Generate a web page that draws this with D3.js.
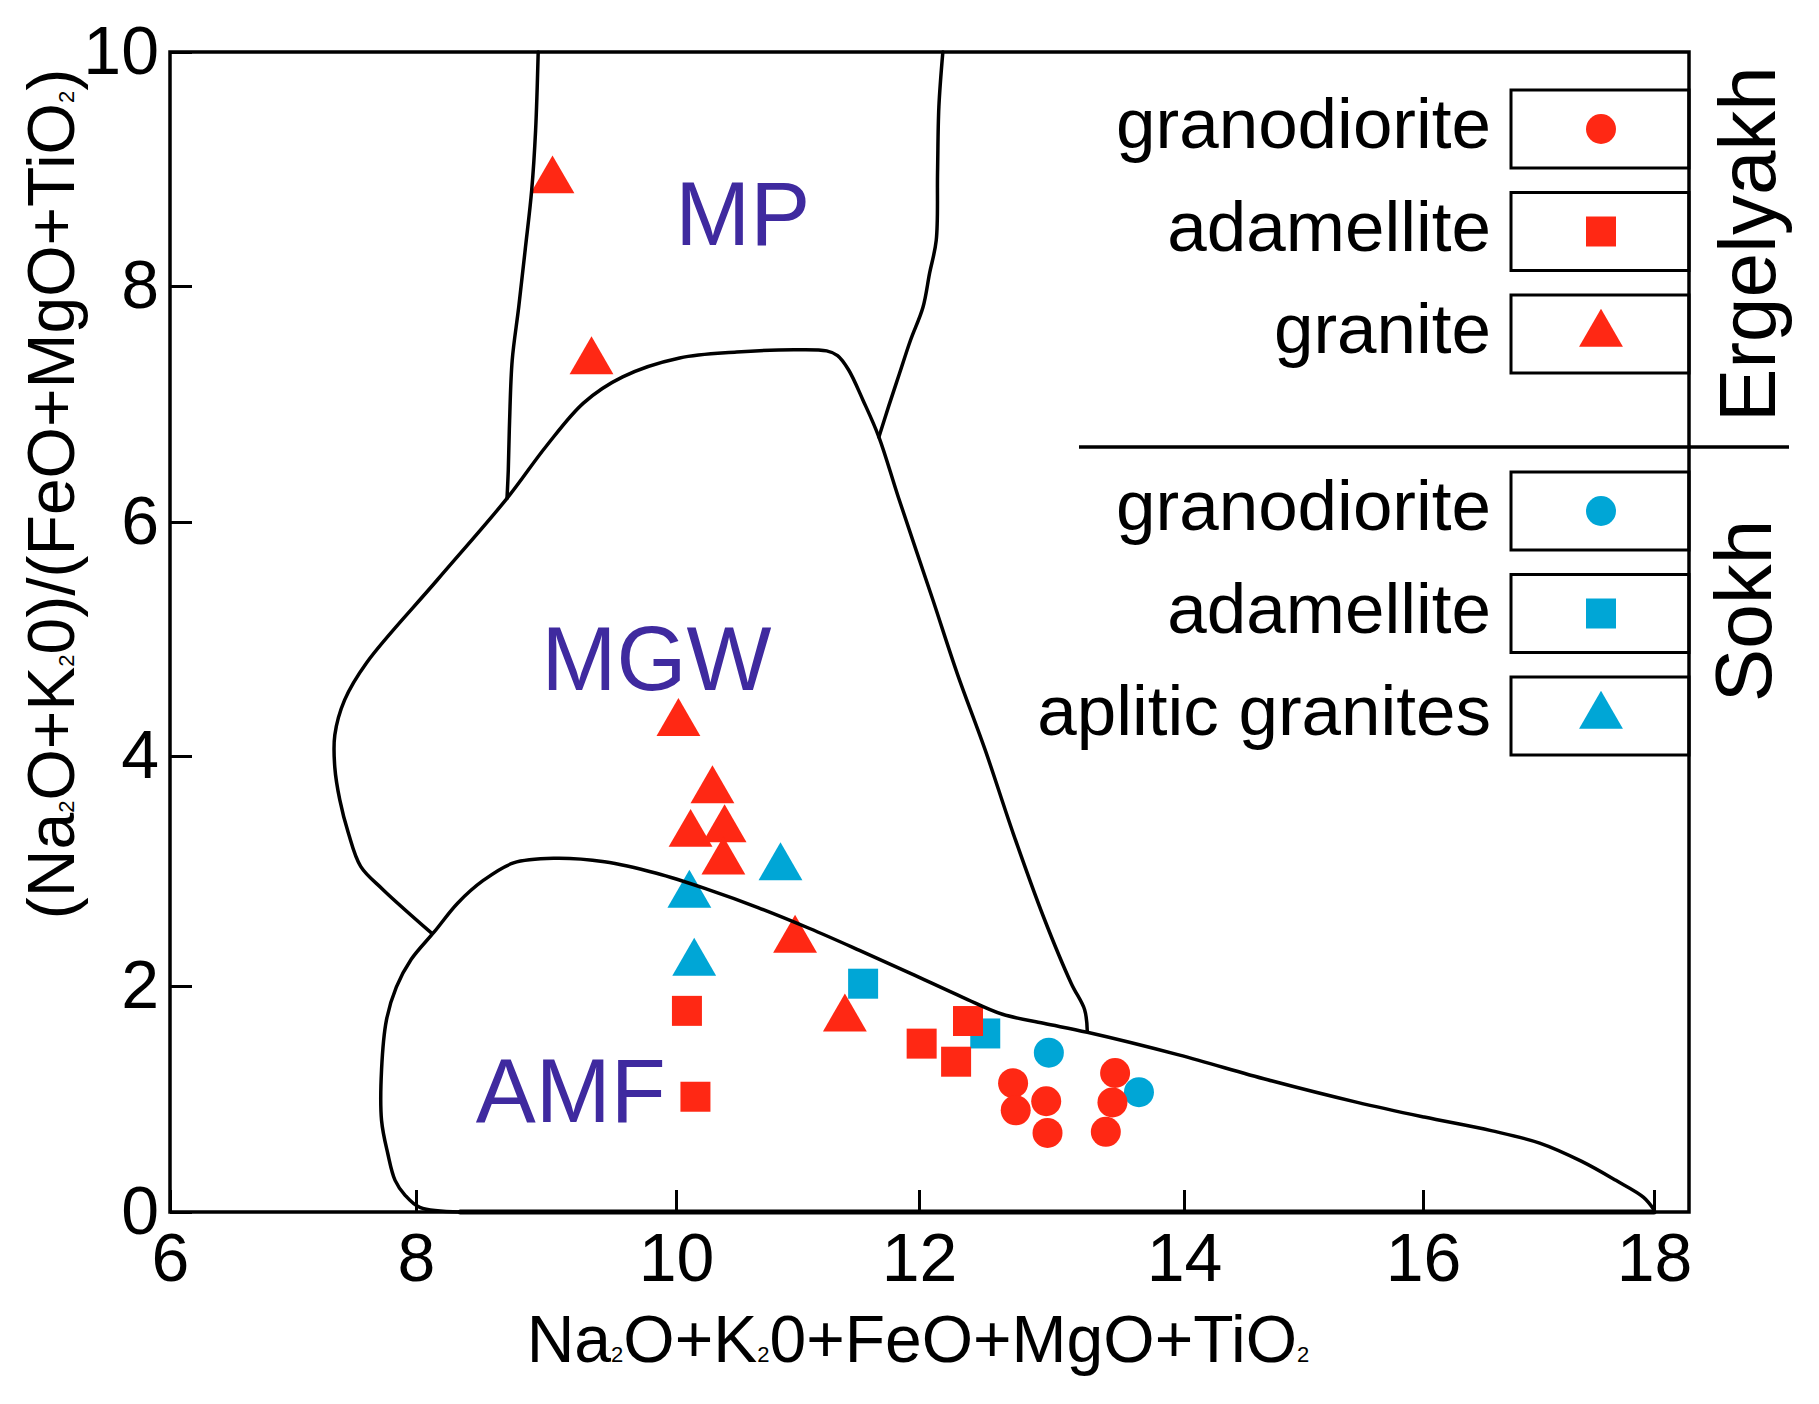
<!DOCTYPE html>
<html><head><meta charset="utf-8">
<script src="https://cdn.jsdelivr.net/npm/d3@7"></script>
<style>html,body{margin:0;padding:0;background:#fff;} svg{display:block;font-family:"Liberation Sans",Arial,Helvetica,sans-serif;}</style>
</head><body><svg id="chart" width="1819" height="1404"></svg>
<script>
// ---------- data ----------
const xTicks = [6, 8, 10, 12, 14, 16, 18];
const yTicks = [0, 2, 4, 6, 8, 10];

// Ergelyakh
const ergGranodiorite = [[12.71,1.14],[12.73,0.90],[12.96,0.98],[12.97,0.70],[13.48,1.23],[13.46,0.97],[13.41,0.71]];
const ergAdamellite   = [[10.09,1.78],[12.37,1.69],[12.02,1.49],[12.28,1.33],[10.16,1.02]];
const ergGranite      = [[9.05,8.90],[9.35,7.36],[10.02,4.28],[10.30,3.70],[10.12,3.32],[10.40,3.36],[10.39,3.08],[10.98,2.40],[11.39,1.71]];
// Sokh
const sokhGranodiorite = [[12.98,1.41],[13.66,1.06]];
const sokhAdamellite   = [[11.54,2.02],[12.50,1.58]];
const sokhAplitic      = [[10.86,3.03],[10.11,2.79],[10.15,2.20]];

// field boundaries
const mpLeft  = [[8.94,10],[8.92,9.33],[8.89,8.82],[8.84,8.31],[8.79,7.82],[8.74,7.37],[8.72,6.86],[8.71,6.44],[8.70,6.20]];
const mpRight = [[12.18,10],[12.15,9.53],[12.14,8.97],[12.13,8.39],[12.08,8.11],[12.03,7.82],[11.93,7.54],[11.84,7.26],[11.75,6.98],[11.67,6.72]];
const mgwLine = [[8.12,2.46],[7.73,2.84],[7.55,3.04],[7.45,3.33],[7.38,3.62],[7.34,3.90],[7.34,4.18],[7.42,4.48],[7.60,4.80],[8.16,5.50],[8.70,6.20],[9.00,6.64],[9.29,7.01],[9.59,7.23],[10.03,7.39],[10.50,7.44],[10.97,7.46],[11.24,7.45],[11.33,7.41],[11.42,7.29],[11.54,7.03],[11.67,6.72],[11.83,6.21],[12.10,5.35],[12.29,4.70],[12.50,4.05],[12.71,3.33],[12.94,2.60],[13.15,2.02],[13.25,1.79],[13.27,1.60]];
const amfLine = [[8.34,0],[8.03,0.04],[7.91,0.15],[7.83,0.28],[7.77,0.52],[7.72,0.81],[7.72,1.26],[7.76,1.70],[7.84,1.99],[7.96,2.23],[8.14,2.47],[8.32,2.72],[8.52,2.92],[8.75,3.07],[9.06,3.11],[9.45,3.08],[9.85,2.98],[10.26,2.84],[10.68,2.68],[11.10,2.50],[11.51,2.31],[11.93,2.11],[12.33,1.90],[12.63,1.75],[12.94,1.67],[13.27,1.59],[13.96,1.39],[14.70,1.17],[15.45,0.97],[16.01,0.84],[16.59,0.72],[17.01,0.61],[17.37,0.45],[17.67,0.28],[17.91,0.13],[18.00,0.02]];
const amfBase = [[8.34,0],[18.0,0]];

const regionNames = ["MP", "MGW", "AMF"];
const regionX = [10.55, 9.85, 9.19];
const regionY = [8.35, 4.56, 0.80];

const groupNames = ["Ergelyakh", "Sokh"];
const ergLabels  = ["granodiorite", "adamellite", "granite"];
const sokhLabels = ["granodiorite", "adamellite", "aplitic granites"];

// ---------- styles ----------
const RED = "#FF2814", CYAN = "#00A6D6", PURPLE = "#3F2A9F";
const shapes = {circle: d3.symbolCircle, square: d3.symbolSquare, triangle: d3.symbolTriangle};
const sizes  = {circle: 707, square: 900, triangle: 833};
const legendShapes = ["circle", "square", "triangle"];

const svg = d3.select("#chart");

// piecewise scales follow the (hand-drawn) tick spacing of the original
const x = d3.scaleLinear().domain([6,8,10,12,14,16,18,18.3]).range([170,416,676,919,1184,1423,1654,1689]);
const y = d3.scaleLinear().domain([0,2,4,6,8,10]).range([1212,986,756,522,286,52]);

// ---------- markers ----------
const series = [
  {data: sokhAplitic, shape: "triangle", color: CYAN},
  {data: ergGranite, shape: "triangle", color: RED},
  {data: sokhAdamellite, shape: "square", color: CYAN},
  {data: ergAdamellite, shape: "square", color: RED},
  {data: sokhGranodiorite, shape: "circle", color: CYAN},
  {data: ergGranodiorite, shape: "circle", color: RED}
];
const gMarks = svg.append("g");
series.forEach(s => {
  gMarks.selectAll(null).data(s.data).enter().append("path")
    .attr("d", d3.symbol().type(shapes[s.shape]).size(sizes[s.shape]))
    .attr("transform", d => `translate(${x(d[0])},${y(d[1])})`)
    .attr("fill", s.color);
});

// ---------- boundaries ----------
const curve = d3.line().x(d => x(d[0])).y(d => y(d[1])).curve(d3.curveCatmullRom.alpha(0.5));
const straight = d3.line().x(d => x(d[0])).y(d => y(d[1]));
const gLines = svg.append("g").attr("fill", "none").attr("stroke", "#000").attr("stroke-width", 3.5)
  .attr("stroke-linejoin", "round").attr("stroke-linecap", "round");
[mpLeft, mpRight, mgwLine, amfLine].forEach(c => gLines.append("path").attr("d", curve(c)));
gLines.append("path").attr("d", straight(amfBase)).attr("stroke-width", 5);

// ---------- region labels ----------
svg.append("g").selectAll("text").data(regionNames).enter().append("text")
  .attr("x", (d, i) => x(regionX[i])).attr("y", (d, i) => y(regionY[i]))
  .attr("text-anchor", "middle").attr("font-size", 90).attr("fill", PURPLE).text(d => d);

// ---------- axes ----------
const xAxis = svg.append("g").attr("transform", "translate(0,1212)")
  .call(d3.axisBottom(x).tickValues(xTicks).tickSize(-22).tickPadding(21).tickFormat(d3.format("d")));
const yAxis = svg.append("g").attr("transform", "translate(170,0)")
  .call(d3.axisLeft(y).tickValues(yTicks).tickSize(-22).tickPadding(11).tickFormat(d3.format("d")));
[xAxis, yAxis].forEach(a => {
  a.select(".domain").remove();
  a.selectAll(".tick line").attr("stroke", "#000").attr("stroke-width", 3);
  a.selectAll(".tick text").attr("font-size", 68).attr("fill", "#000");
  a.attr("font-family", null);
});

// frame
svg.append("rect").attr("x", x(6)).attr("y", y(10))
  .attr("width", x(18.3) - x(6)).attr("height", y(0) - y(10))
  .attr("fill", "none").attr("stroke", "#000").attr("stroke-width", 3.5);

// ---------- axis titles ----------
function chem(sel, parts) {
  parts.forEach(p => {
    const t = sel.append("tspan").text(p[0]);
    if (p[1]) t.attr("font-size", 22);
  });
}
const xt = svg.append("text").attr("x", 918).attr("y", 1362).attr("text-anchor", "middle").attr("font-size", 66);
chem(xt, [["Na"],["2",1],["O+K"],["2",1],["0+FeO+MgO+TiO"],["2",1]]);
const yt = svg.append("text").attr("transform", "translate(74,494) rotate(-90)").attr("text-anchor", "middle").attr("font-size", 66);
chem(yt, [["(Na"],["2",1],["O+K"],["2",1],["0)/(FeO+MgO+TiO"],["2",1],[")"]]);

// ---------- legend ----------
const gLeg = svg.append("g");
const groups = [
  {labels: ergLabels, color: RED, top: 90, name: groupNames[0], cy: 244, bx: 1775},
  {labels: sokhLabels, color: CYAN, top: 472, name: groupNames[1], cy: 611, bx: 1771}
];
groups.forEach(g => {
  g.labels.forEach((lab, i) => {
    const top = g.top + i * 102.5, cy = top + 39;
    gLeg.append("rect").attr("x", 1511).attr("y", top).attr("width", 178).attr("height", 78)
      .attr("fill", "none").attr("stroke", "#000").attr("stroke-width", 3);
    gLeg.append("path").attr("d", d3.symbol().type(shapes[legendShapes[i]]).size(sizes[legendShapes[i]]))
      .attr("transform", `translate(1601,${cy})`).attr("fill", g.color);
    gLeg.append("text").attr("x", 1491).attr("y", cy + 19).attr("text-anchor", "end")
      .attr("font-size", 71).text(lab);
  });
  gLeg.append("text").attr("transform", `translate(${g.bx},${g.cy}) rotate(-90)`)
    .attr("text-anchor", "middle").attr("font-size", 80).text(g.name);
});
gLeg.append("line").attr("x1", 1079).attr("x2", 1789).attr("y1", 447).attr("y2", 447)
  .attr("stroke", "#000").attr("stroke-width", 3.5);
</script>
</body></html>
